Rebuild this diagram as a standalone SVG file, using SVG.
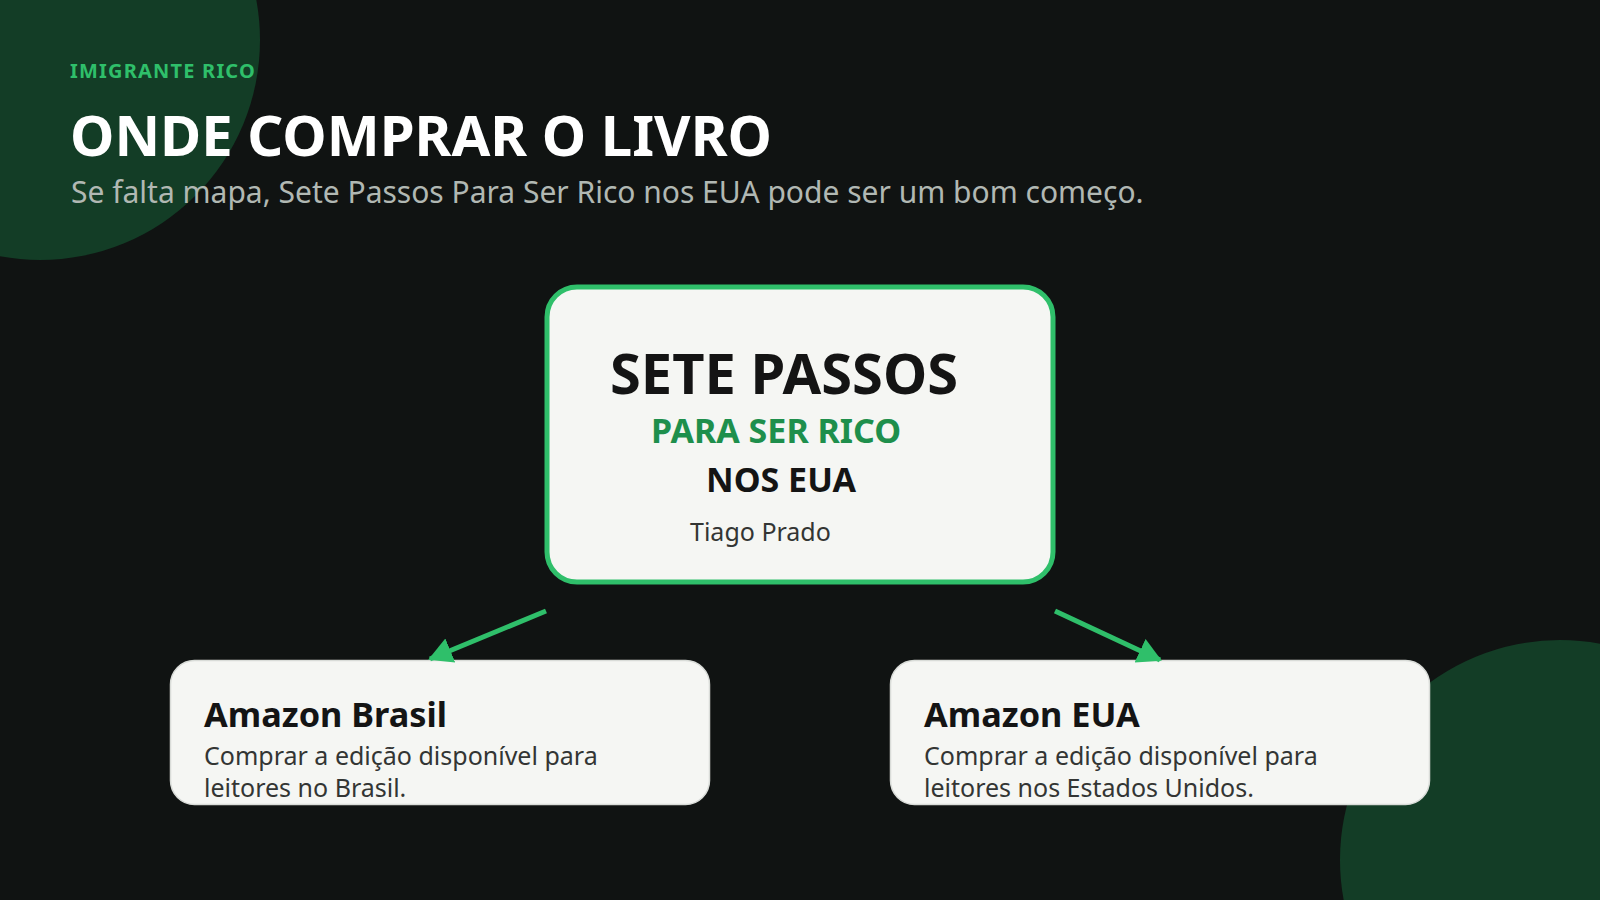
<svg xmlns="http://www.w3.org/2000/svg" width="1600" height="900" viewBox="0 0 1600 900">
  <defs>
    <style>
      .t { font-family: "Noto Sans", "Open Sans", "DejaVu Sans", sans-serif; }
      .b { font-weight: 700; }
      .card { fill: #f5f6f3; stroke: #d9dcd8; stroke-width: 1.5; }
      .hero { fill: #f5f6f3; stroke: #2fbf6a; stroke-width: 5; }
      .edge { stroke: #2fbf6a; stroke-width: 5; fill: none; }
      .cardTitle { font-size: 34.3px; fill: #141414; }
      .cardText { font-size: 25px; fill: #333533; }
    </style>
    <marker id="arrow" markerUnits="userSpaceOnUse" markerWidth="26" markerHeight="28" refX="22" refY="13" orient="auto" viewBox="0 0 26 26">
      <path d="M0,0 L24,13 L0,26 Z" fill="#2fbf6a"/>
    </marker>
  </defs>

  <!-- background -->
  <rect x="0" y="0" width="1600" height="900" fill="#101312"/>
  <circle cx="40" cy="40" r="220" fill="#133d26"/>
  <circle cx="1560" cy="860" r="220" fill="#133d26"/>

  <!-- header -->
  <g id="header">
    <text class="t b" x="70" y="78" font-size="20" letter-spacing="1.2" fill="#2fbf6a">IMIGRANTE RICO</text>
    <text class="t b" x="70" y="156" font-size="56.2" fill="#ffffff">ONDE COMPRAR O LIVRO</text>
    <text class="t" x="71" y="203" font-size="30" fill="#b1b8b3">Se falta mapa, Sete Passos Para Ser Rico nos EUA pode ser um bom começo.</text>
  </g>

  <!-- book cover node -->
  <g id="book">
    <rect class="hero" x="547" y="287" width="506" height="295" rx="30" ry="30"/>
    <text class="t b" x="610" y="394" font-size="56" fill="#141414">SETE PASSOS</text>
    <text class="t b" x="651" y="443" font-size="34" fill="#1e8f4c">PARA SER RICO</text>
    <text class="t b" x="706" y="492" font-size="34" fill="#141414">NOS EUA</text>
    <text class="t" x="690" y="541" font-size="25" fill="#333533">Tiago Prado</text>
  </g>

  <!-- store nodes -->
  <g id="amazon-brasil">
    <rect class="card" x="170.5" y="660.5" width="539" height="144" rx="24" ry="24"/>
    <text class="t b cardTitle" x="204" y="727">Amazon Brasil</text>
    <text class="t cardText" x="204" y="765">Comprar a edição disponível para</text>
    <text class="t cardText" x="204" y="797">leitores no Brasil.</text>
  </g>

  <g id="amazon-eua">
    <rect class="card" x="890.5" y="660.5" width="539" height="144" rx="24" ry="24"/>
    <text class="t b cardTitle" x="924" y="727">Amazon EUA</text>
    <text class="t cardText" x="924" y="765">Comprar a edição disponível para</text>
    <text class="t cardText" x="924" y="797">leitores nos Estados Unidos.</text>
  </g>

  <!-- connectors -->
  <g id="connectors">
    <line class="edge" x1="546" y1="611" x2="430" y2="659" marker-end="url(#arrow)"/>
    <line class="edge" x1="1055" y1="611" x2="1160" y2="660" marker-end="url(#arrow)"/>
  </g>
</svg>
